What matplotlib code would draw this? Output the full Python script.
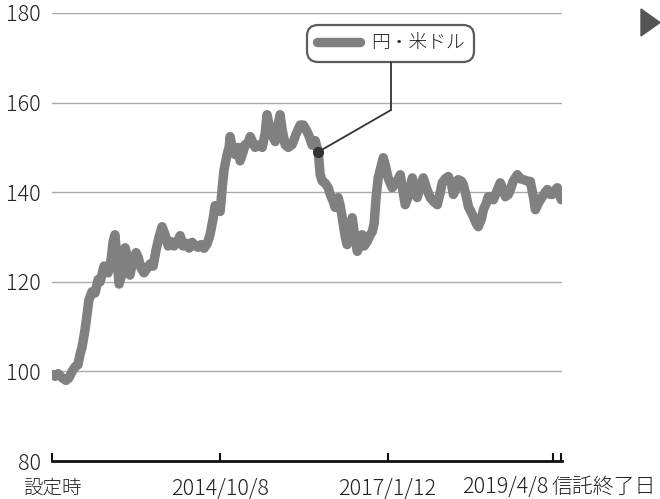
import numpy as np
import pandas as pd
from matplotlib import pyplot as plt
from matplotlib.patches import Polygon

plt.rcParams['font.family'] = ['Noto Sans CJK JP', 'DejaVu Sans']
plt.rcParams['font.weight'] = 'light'

# index values (inception = 100), days since inception
start = pd.Timestamp("2012-07-05")
days = [0, 15, 30, 49, 69, 84, 99, 113, 128, 138, 148, 163, 172, 182, 197, 212, 227, 237,
        256, 276, 291, 301, 310, 320, 330, 340, 350, 360, 374, 384, 399, 414, 424, 439, 453,
        468, 483, 498, 512, 527, 542, 557, 572, 586, 601, 616, 631, 645, 660, 675, 690, 705,
        719, 734, 749, 764, 778, 793, 803, 818, 828, 838, 847, 862, 872, 877, 887, 902, 916,
        926, 941, 951, 966, 976, 990, 1000, 1015, 1035, 1049, 1059, 1069, 1084, 1099, 1113,
        1123, 1133, 1148, 1163, 1182, 1202, 1222, 1237, 1251, 1266, 1281, 1296, 1311, 1320,
        1330, 1345, 1360, 1370, 1384, 1394, 1409, 1419, 1429, 1444, 1453, 1463, 1478, 1488,
        1503, 1513, 1527, 1537, 1552, 1567, 1577, 1586, 1596, 1606, 1616, 1631, 1641, 1655,
        1665, 1675, 1690, 1705, 1715, 1729, 1739, 1754, 1764, 1774, 1788, 1798, 1813, 1828,
        1843, 1862, 1877, 1897, 1912, 1921, 1936, 1951, 1966, 1976, 1991, 2000, 2015, 2025,
        2040, 2050, 2064, 2074, 2089, 2099, 2114, 2124, 2138, 2148, 2163, 2173, 2188, 2207,
        2222, 2232, 2247, 2257, 2271, 2291, 2306, 2321, 2340, 2355, 2370, 2380, 2394, 2414,
        2429, 2439, 2454, 2463, 2478, 2488, 2498, 2508]
values = [99.3, 98.9, 99.5, 98.6, 98.0, 98.6, 100.0, 101.0, 101.5, 103.8, 105.4, 109.4, 112.5,
          116.0, 117.8, 117.5, 120.5, 120.0, 123.5, 122.0, 125.0, 129.0, 130.5, 125.0, 119.5,
          121.0, 125.0, 127.6, 125.0, 121.5, 125.0, 126.5, 125.5, 123.0, 122.0, 123.0, 124.0,
          123.5, 127.0, 130.0, 132.3, 130.5, 128.0, 129.0, 128.0, 128.8, 130.3, 128.0, 128.6,
          127.5, 128.8, 128.0, 127.7, 128.3, 127.5, 128.5, 130.5, 134.0, 137.0, 136.0, 135.7,
          141.0, 145.0, 148.4, 150.0, 152.4, 150.0, 148.4, 150.0, 147.0, 149.0, 150.6, 151.0,
          152.4, 151.0, 150.0, 150.5, 150.0, 153.0, 157.3, 155.0, 152.8, 151.3, 155.0, 157.3,
          154.0, 150.6, 150.0, 150.6, 153.0, 155.0, 155.0, 154.0, 152.5, 150.5, 151.5, 149.0,
          144.0, 142.5, 142.0, 141.0, 139.5, 138.0, 136.6, 138.8, 137.0, 134.3, 130.0, 128.3,
          130.0, 134.3, 131.0, 126.8, 128.0, 130.5, 128.0, 129.0, 130.5, 131.2, 133.0, 139.0,
          143.2, 145.0, 147.7, 146.0, 143.2, 142.0, 141.0, 142.0, 143.0, 143.9, 140.0, 137.2,
          139.0, 141.0, 143.2, 140.5, 138.8, 141.0, 143.2, 141.0, 138.8, 138.0, 137.2, 140.0,
          142.1, 143.0, 143.5, 142.0, 139.5, 141.0, 142.8, 142.5, 141.7, 139.0, 136.8, 135.5,
          134.6, 133.0, 132.3, 134.0, 136.1, 137.5, 139.0, 139.0, 138.3, 140.0, 142.1, 140.5,
          139.0, 139.5, 140.6, 142.5, 143.9, 143.0, 142.8, 142.5, 142.4, 139.0, 136.1, 137.5,
          139.0, 140.0, 140.6, 139.5, 139.5, 140.5, 141.0, 139.5, 138.3]

tick_dates = ["2012-07-05", "2014-10-08", "2017-01-12", "2019-04-08", "2019-05-18"]
tick_labels = ["設定時", "2014/10/8", "2017/1/12", "2019/4/8", "信託終了日"]
series_name = "円・米ドル"
marked_day = 1311  # point the callout refers to

dates = start + pd.to_timedelta(days, unit="D")
ticks = pd.to_datetime(tick_dates)

fig = plt.figure(figsize=(6.6, 4.99), dpi=100)
ax = fig.add_axes([52 / 660, 38 / 499, 510 / 660, 448 / 499])

ax.plot(dates, values, color="#808080", lw=6.8, solid_capstyle="round",
        solid_joinstyle="round", label=series_name, zorder=3)

ax.set_ylim(80, 180)
ax.set_xlim(start, start + pd.Timedelta(days=2511))
ax.set_yticks([80, 100, 120, 140, 160, 180])
ax.yaxis.grid(True, color="#aaaaaa", lw=1)
ax.set_axisbelow(True)

for s in ["top", "right", "left"]:
    ax.spines[s].set_visible(False)
ax.spines["bottom"].set_linewidth(2)
ax.spines["bottom"].set_color("#111111")

ax.tick_params(axis="y", length=0, pad=8, labelsize=15.5, labelcolor="#222222")
ax.set_xticks(ticks)
ax.set_xticklabels(tick_labels[:3] + ["", ""])
ax.tick_params(axis="x", direction="in", length=6, width=1.5, color="#111111",
               pad=12, labelsize=14, labelcolor="#222222")
xl = ax.get_xticklabels()
for i in (1, 2):
    xl[i].set_fontsize(15.5)

# the two last ticks are close together, so their labels are pushed apart
ax.annotate(tick_labels[3], xy=(ticks[3], 0), xycoords=("data", "axes fraction"),
            xytext=(-3.5, -18.5), textcoords="offset points", ha="right", va="center",
            fontsize=15.5, color="#222222")
ax.annotate(tick_labels[4], xy=(ticks[4], 0), xycoords=("data", "axes fraction"),
            xytext=(-7, -18.5), textcoords="offset points", ha="left", va="center",
            fontsize=15, color="#222222")

# callout box
leg = ax.legend(loc="center", bbox_to_anchor=(0.664, 0.932), handlelength=2.3,
                fontsize=13.5, frameon=True, fancybox=True, borderpad=0.5,
                handletextpad=0.6, borderaxespad=0)
fr = leg.get_frame()
fr.set_edgecolor("#333333")
fr.set_linewidth(1.6)
fr.set_boxstyle("round", pad=0.0, rounding_size=0.6)
for t in leg.get_texts():
    t.set_color("#222222")

md = start + pd.Timedelta(days=marked_day)
mv = values[days.index(marked_day)]
ax.plot([md], [mv], "o", color="#333333", ms=7, zorder=5)
ax.annotate("", xy=(md, mv), xycoords="data", xytext=(0.664, 0.783),
            textcoords="axes fraction",
            arrowprops=dict(arrowstyle="-", color="#333333", lw=1.3,
                            shrinkA=0, shrinkB=0))
ax.plot([0.664, 0.664], [0.783, 0.891], color="#333333", lw=1.3,
        transform=ax.transAxes)

# nav triangle top right
tri = Polygon([[641 / 660, 1 - 9 / 499], [641 / 660, 1 - 36 / 499], [660 / 660, 1 - 22.5 / 499]],
              closed=True, color="#555555", transform=fig.transFigure)
fig.patches.append(tri)

fig.savefig("out.png", dpi=100)
